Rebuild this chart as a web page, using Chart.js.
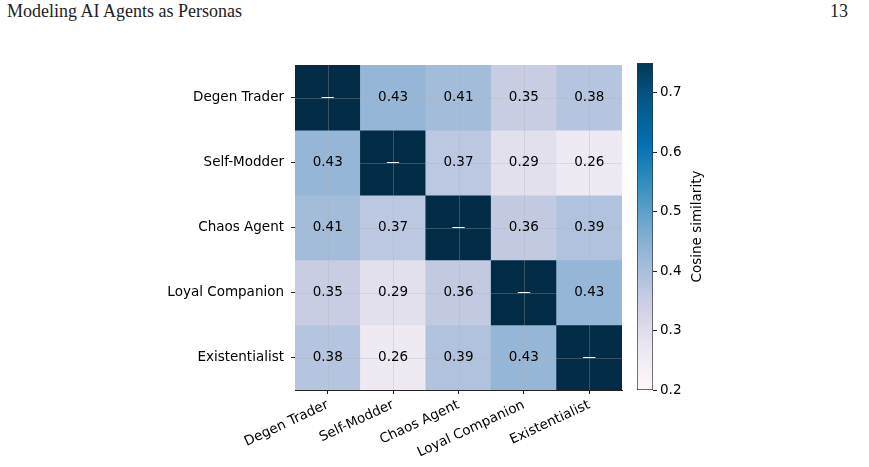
<!DOCTYPE html>
<html>
<head>
<meta charset="utf-8">
<script src="https://cdn.jsdelivr.net/npm/chart.js@4.4.1/dist/chart.umd.min.js"></script>
<style>
  html, body { margin: 0; padding: 0; background: #fff; }
  body { width: 869px; height: 467px; position: relative; overflow: hidden; }
  .hdr { position: absolute; top: 1px; font-family: 'Liberation Serif', 'DejaVu Serif', serif; font-size: 18px; color: #222; }
  #heatWrap { position: absolute; left: 150px; top: 50px; width: 480px; height: 417px; }
  #barWrap { position: absolute; left: 620px; top: 50px; width: 120px; height: 417px; }
</style>
</head>
<body>
<div class="hdr" style="left:7px;">Modeling AI Agents as Personas</div>
<div class="hdr" style="right:21px;">13</div>
<div id="heatWrap"><canvas id="heatChart"></canvas></div>
<div id="barWrap"><canvas id="cbarChart"></canvas></div>
<script>
// --- DATA ---
const personas = ['Degen Trader', 'Self-Modder', 'Chaos Agent', 'Loyal Companion', 'Existentialist'];

// cosine similarity, rows top to bottom (diagonal = self, shown as a dash)
const rowDegen = [1.00, 0.43, 0.41, 0.35, 0.38];
const rowSelfMod = [0.43, 1.00, 0.37, 0.29, 0.26];
const rowChaos = [0.41, 0.37, 1.00, 0.36, 0.39];
const rowLoyal = [0.35, 0.29, 0.36, 1.00, 0.43];
const rowExist = [0.38, 0.26, 0.39, 0.43, 1.00];
const simRows = [rowDegen, rowSelfMod, rowChaos, rowLoyal, rowExist];

const colorMin = 0.2;
const colorMax = 0.75;
const colorbarTicks = [0.2, 0.3, 0.4, 0.5, 0.6, 0.7];

// --- COLOUR MAP (PuBu) ---
const puBu = ['#fff7fb', '#ece7f2', '#d0d1e6', '#a6bddb', '#74a9cf', '#3690c0', '#0570b0', '#045a8d', '#023858'];
const diagColor = '#022b46';
const gridColor = 'rgba(176,176,176,0.3)';

function hexToRgb(h) {
    return [parseInt(h.slice(1, 3), 16), parseInt(h.slice(3, 5), 16), parseInt(h.slice(5, 7), 16)];
}

function cmap(v) {
    let t = (v - colorMin) / (colorMax - colorMin);
    t = Math.max(0, Math.min(1, t));
    const pos = t * (puBu.length - 1);
    const i = Math.min(Math.floor(pos), puBu.length - 2);
    const f = pos - i;
    const a = hexToRgb(puBu[i]), b = hexToRgb(puBu[i + 1]);
    const c = a.map((x, k) => Math.round(x + (b[k] - x) * f));
    return 'rgb(' + c.join(',') + ')';
}

Chart.defaults.font.family = "'DejaVu Sans', sans-serif";
Chart.defaults.font.size = 13.5;
Chart.defaults.color = '#000';
Chart.defaults.animation = false;

// --- HEATMAP ---
// grid drawn over the cells, then the cell texts on top
const overlay = {
    id: 'overlay',
    afterDatasetsDraw(chart) {
        const ctx = chart.ctx;
        const area = chart.chartArea;
        const xs = chart.scales.x, ys = chart.scales.y;
        ctx.save();
        ctx.strokeStyle = gridColor;
        ctx.lineWidth = 1;
        ctx.beginPath();
        xs.ticks.forEach((t, i) => {
            const px = Math.round(xs.getPixelForTick(i)) + 0.5;
            ctx.moveTo(px, area.top);
            ctx.lineTo(px, area.bottom);
        });
        ys.ticks.forEach((t, i) => {
            const py = Math.round(ys.getPixelForTick(i)) + 0.5;
            ctx.moveTo(area.left, py);
            ctx.lineTo(area.right, py);
        });
        ctx.stroke();

        ctx.font = "13.5px 'DejaVu Sans', sans-serif";
        ctx.textAlign = 'center';
        ctx.textBaseline = 'middle';
        chart.data.datasets.forEach((ds, r) => {
            const meta = chart.getDatasetMeta(r);
            meta.data.forEach((bar, c) => {
                const cy = (bar.y + bar.base) / 2;
                if (r === c) {
                    ctx.fillStyle = '#fff';
                    ctx.fillText('\u2014', bar.x, cy);
                } else {
                    ctx.fillStyle = '#000';
                    ctx.fillText(simRows[r][c].toFixed(2), bar.x, cy);
                }
            });
        });
        ctx.restore();
    }
};

const heatDatasets = simRows.map((row, r) => ({
    label: personas[r],
    data: row.map(() => [r, r + 1]),
    backgroundColor: row.map((v, c) => (r === c ? diagColor : cmap(v))),
    borderWidth: 0,
    borderSkipped: false,
    barPercentage: 1,
    categoryPercentage: 1,
    grouped: false
}));

new Chart(document.getElementById('heatChart'), {
    type: 'bar',
    data: { labels: personas, datasets: heatDatasets },
    options: {
        responsive: true,
        maintainAspectRatio: false,
        layout: { padding: { top: 13, right: 8, bottom: 0, left: 0 } },
        scales: {
            x: {
                grid: { offset: false, drawOnChartArea: false, tickColor: '#222', tickLength: 4 },
                border: { display: true, color: '#222', width: 1 },
                ticks: { minRotation: 25, maxRotation: 25, padding: 3, color: '#000' },
                afterFit(scale) { scale.height = 77; }
            },
            y: {
                min: 0,
                max: 5,
                reverse: true,
                grid: { drawOnChartArea: false, tickColor: '#222', tickLength: 4 },
                border: { display: true, color: '#222', width: 1 },
                afterBuildTicks(scale) {
                    scale.ticks = personas.map((p, i) => ({ value: i + 0.5 }));
                },
                ticks: {
                    padding: 7,
                    color: '#000',
                    callback: function(value, index) { return personas[index]; }
                },
                afterFit(scale) { scale.width = 145; }
            }
        },
        plugins: {
            legend: { display: false },
            tooltip: { enabled: false }
        }
    },
    plugins: [overlay]
});

// --- COLOUR BAR ---
const cbarTitle = {
    id: 'cbarTitle',
    afterDraw(chart) {
        const ctx = chart.ctx;
        const area = chart.chartArea;
        const ys = chart.scales.y;
        ctx.save();
        ctx.translate(ys.left + 44, (area.top + area.bottom) / 2);
        ctx.rotate(-Math.PI / 2);
        ctx.font = "13.5px 'DejaVu Sans', sans-serif";
        ctx.fillStyle = '#000';
        ctx.textAlign = 'center';
        ctx.textBaseline = 'middle';
        ctx.fillText('Cosine similarity', 0, 0);
        ctx.restore();
    }
};

function barGradient(context) {
    const chart = context.chart;
    const area = chart.chartArea;
    if (!area) return puBu[4];
    const ys = chart.scales.y;
    const g = chart.ctx.createLinearGradient(0, ys.getPixelForValue(colorMin), 0, ys.getPixelForValue(colorMax));
    puBu.forEach((col, i) => g.addColorStop(i / (puBu.length - 1), col));
    return g;
}

new Chart(document.getElementById('cbarChart'), {
    type: 'bar',
    data: {
        labels: [''],
        datasets: [{
            data: [[colorMin, colorMax]],
            backgroundColor: barGradient,
            borderColor: '#333',
            borderWidth: 1,
            borderSkipped: false,
            barPercentage: 1,
            categoryPercentage: 1
        }]
    },
    options: {
        responsive: true,
        maintainAspectRatio: false,
        layout: { padding: { top: 13, right: 0, bottom: 77, left: 17 } },
        scales: {
            x: { display: false },
            y: {
                position: 'right',
                min: colorMin,
                max: colorMax,
                grid: { drawOnChartArea: false, drawTicks: true, tickLength: 4, tickColor: '#222' },
                border: { display: false },
                afterBuildTicks(scale) {
                    scale.ticks = colorbarTicks.map(v => ({ value: v }));
                },
                ticks: {
                    padding: 3,
                    color: '#000',
                    callback: function(value) { return value.toFixed(1); }
                },
                afterFit(scale) { scale.width = 87; }
            }
        },
        plugins: {
            legend: { display: false },
            tooltip: { enabled: false }
        }
    },
    plugins: [cbarTitle]
});
</script>
</body>
</html>
